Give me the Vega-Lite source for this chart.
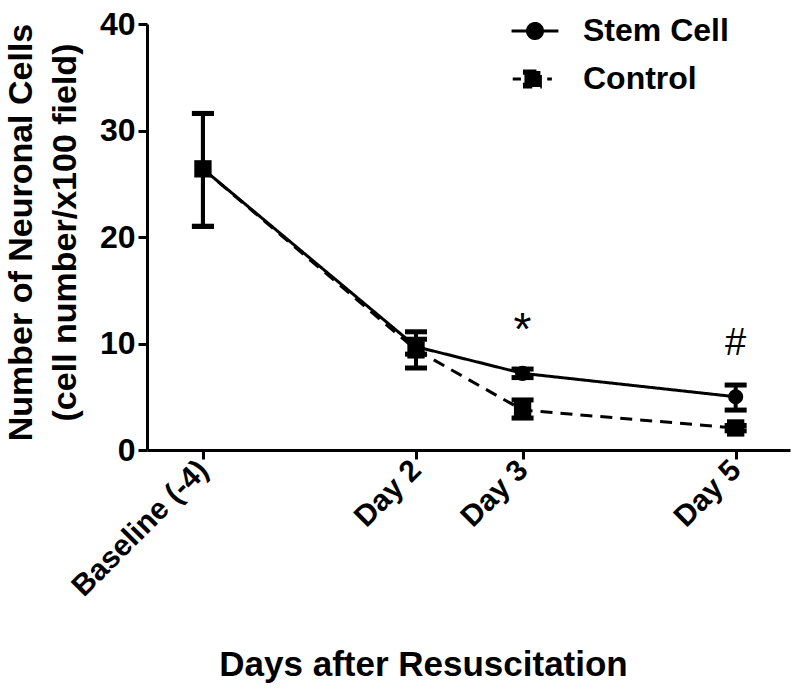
{
  "$schema": "https://vega.github.io/schema/vega-lite/v6.json",
  "width": 643,
  "height": 426,
  "autosize": {"type": "none"},
  "padding": {"left": 147, "top": 24, "right": 10, "bottom": 250},
  "background": "white",
  "config": {
    "view": {"stroke": null},
    "font": "Liberation Sans",
    "axis": {
      "domainColor": "black", "domainWidth": 3, "tickColor": "black", "tickWidth": 3, "tickSize": 9,
      "labelColor": "black", "labelFont": "Liberation Sans", "labelFontWeight": "bold",
      "titleColor": "black", "titleFont": "Liberation Sans", "titleFontWeight": "bold", "grid": false
    }
  },
  "datasets": {
    "pts": [
      {"day": 0, "group": "Control", "mean": 26.4, "lo": 21.0, "hi": 31.6},
      {"day": 2, "group": "Control", "mean": 9.4, "lo": 7.7, "hi": 11.1},
      {"day": 3, "group": "Control", "mean": 3.75, "lo": 3.0, "hi": 4.7},
      {"day": 5, "group": "Control", "mean": 2.07, "lo": 1.8, "hi": 2.3},
      {"day": 0, "group": "Stem Cell", "mean": 26.4, "lo": 21.0, "hi": 31.6},
      {"day": 2, "group": "Stem Cell", "mean": 9.7, "lo": 9.0, "hi": 10.4},
      {"day": 3, "group": "Stem Cell", "mean": 7.2, "lo": 6.8, "hi": 7.6},
      {"day": 5, "group": "Stem Cell", "mean": 5.0, "lo": 3.75, "hi": 6.1}
    ],
    "notes": [
      {"day": 3, "y": 9.9, "text": "*"},
      {"day": 5, "y": 8.9, "text": "#"}
    ]
  },
  "data": {"name": "pts"},
  "encoding": {
    "x": {
      "field": "day", "type": "quantitative",
      "scale": {"domain": [-0.525, 5.51], "nice": false, "zero": false},
      "axis": {
        "values": [0, 2, 3, 5],
        "labelExpr": "datum.value == 0 ? 'Baseline (-4)' : 'Day ' + datum.value",
        "labelAngle": -45, "labelAlign": "right", "labelBaseline": "middle",
        "labelFontSize": 30, "labelPadding": 6,
        "title": "Days after Resuscitation", "titleFontSize": 35,
        "titleX": 276, "titleY": 214, "titleAlign": "center", "titleBaseline": "middle"
      }
    },
    "y": {
      "field": "mean", "type": "quantitative",
      "scale": {"domain": [0, 40], "nice": false},
      "axis": {
        "values": [0, 10, 20, 30, 40], "labelFontSize": 32, "labelPadding": 3,
        "title": ["Number of Neuronal Cells", "(cell number/x100 field)"],
        "titleFontSize": 34, "titleLineHeight": 44, "titleAngle": -90,
        "titleX": -143, "titleY": 208, "titleAlign": "center", "titleBaseline": "top"
      }
    }
  },
  "layer": [
    {
      "mark": {"type": "line", "color": "black", "strokeWidth": 3},
      "encoding": {
        "detail": {"field": "group"},
        "strokeDash": {
          "field": "group", "type": "nominal",
          "scale": {"domain": ["Stem Cell", "Control"], "range": [[1, 0], [12, 8]]},
          "legend": {
            "orient": "none", "legendX": 363, "legendY": -18, "title": null,
            "padding": 0, "symbolSize": 2200, "symbolStrokeWidth": 3,
            "symbolStrokeColor": "black", "symbolFillColor": "black",
            "labelFontSize": 32, "labelFontWeight": "bold", "labelColor": "black",
            "labelFont": "Liberation Sans", "labelOffset": 23, "rowPadding": 7,
            "encode": {
              "symbols": {
                "update": {
                  "shape": {"signal": "datum.label === 'Stem Cell' ? 'M-1,0H1M-0.32,0A0.32,0.32 0 1,0 0.32,0A0.32,0.32 0 1,0 -0.32,0Z' : 'M-0.95,0H-0.6M-0.45,-0.34H0.23V0.34H-0.45ZM0.52,0H0.72'"},
                  "strokeDash": {"value": [1, 0]},
                  "fill": {"value": "black"},
                  "stroke": {"value": "black"}
                }
              }
            }
          }
        }
      }
    },
    {
      "mark": {"type": "rule", "color": "black", "strokeWidth": 4},
      "encoding": {"y": {"field": "lo", "type": "quantitative"}, "y2": {"field": "hi"}}
    },
    {
      "mark": {"type": "point", "shape": "M-1,0H1", "stroke": "black", "strokeWidth": 5, "size": 484, "opacity": 1},
      "encoding": {"y": {"field": "lo", "type": "quantitative"}}
    },
    {
      "mark": {"type": "point", "shape": "M-1,0H1", "stroke": "black", "strokeWidth": 5, "size": 484, "opacity": 1},
      "encoding": {"y": {"field": "hi", "type": "quantitative"}}
    },
    {
      "mark": {"type": "point", "filled": true, "color": "black", "opacity": 1},
      "encoding": {
        "shape": {"condition": {"test": "datum.group == 'Stem Cell'", "value": "circle"}, "value": "square"},
        "size": {"condition": {"test": "datum.group == 'Stem Cell'", "value": 230}, "value": 300}
      }
    },
    {
      "data": {"name": "notes"},
      "mark": {"type": "text", "color": "black", "baseline": "alphabetic", "align": "center", "font": "Liberation Sans"},
      "encoding": {
        "y": {"field": "y", "type": "quantitative"},
        "text": {"field": "text"},
        "fontWeight": {"condition": {"test": "datum.text == '*'", "value": "bold"}, "value": "normal"},
        "size": {"condition": {"test": "datum.text == '*'", "value": 46}, "value": 38}
      }
    }
  ]
}
